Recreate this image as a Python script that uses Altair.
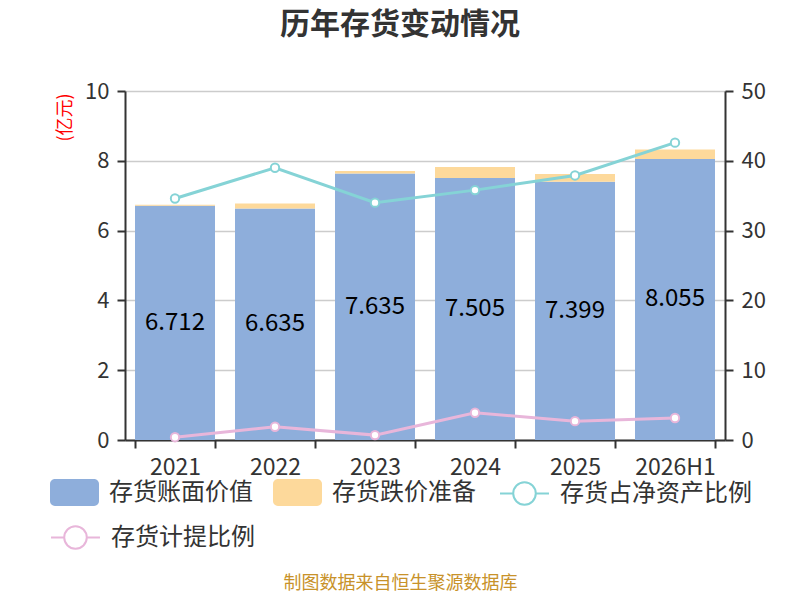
import altair as alt
import pandas as pd

years = ["2021", "2022", "2023", "2024", "2025", "2026H1"]
book_value = [6.712, 6.635, 7.635, 7.505, 7.399, 8.055]
reserve = [0.03, 0.14, 0.07, 0.32, 0.22, 0.27]
ratio_net_assets = [34.6, 39.0, 34.0, 35.8, 37.9, 42.6]
ratio_provision = [0.4, 1.9, 0.7, 3.9, 2.7, 3.15]

S_BOOK = "存货账面价值"
S_RES = "存货跌价准备"
S_L1 = "存货占净资产比例"
S_L2 = "存货计提比例"

FONT = "Noto Sans CJK SC"
BLUE = "#8eaedb"
ORANGE = "#fdd99b"
TEAL = "#85d3d6"
PINK = "#e8b6da"

bar_rows = []
for y, b, r in zip(years, book_value, reserve):
    bar_rows.append({"year": y, "series": S_BOOK, "value": b, "ord": 0})
    bar_rows.append({"year": y, "series": S_RES, "value": r, "ord": 1})
df_bar = pd.DataFrame(bar_rows)
df_txt = pd.DataFrame({"year": years, "value": book_value})
df_l1 = pd.DataFrame({"year": years, "value": ratio_net_assets, "series": S_L1})
df_l2 = pd.DataFrame({"year": years, "value": ratio_provision, "series": S_L2})

RECT = ("M-0.8,-0.55 L0.8,-0.55 A0.2,0.2 0 0 1 1,-0.35 L1,0.35 "
        "A0.2,0.2 0 0 1 0.8,0.55 L-0.8,0.55 A0.2,0.2 0 0 1 -1,0.35 "
        "L-1,-0.35 A0.2,0.2 0 0 1 -0.8,-0.55 Z")
LINESYM = ("M-1,0 L-0.46,0 M0.46,0 L1,0 M0.46,0 "
           "A0.46,0.46 0 1 0 -0.46,0 A0.46,0.46 0 1 0 0.46,0 Z")

x_enc = alt.X(
    "year:N", sort=years,
    scale=alt.Scale(paddingInner=0.2, paddingOuter=0.1),
    axis=alt.Axis(
        title="制图数据来自恒生聚源数据库", titleColor="#c8922a", titleFontSize=18,
        titleFontWeight="normal", titleX=275, titleY=143, titleAlign="center",
        titleBaseline="middle", titleFont=FONT,
        labelAngle=0, labelFontSize=23, labelColor="#333333", labelFont=FONT,
        tickBand="extent", tickSize=8, tickColor="#333333", tickWidth=2,
        domainColor="#333333", domainWidth=2, labelPadding=8, grid=False,
    ),
)

left_axis = alt.Axis(
    title="(亿元)", titleColor="#ff0000", titleFontSize=18, titleFontWeight="normal",
    titleFont=FONT, titleX=-60, titleY=26, titleAlign="center", titleAngle=-90,
    titleBaseline="middle",
    values=[0, 2, 4, 6, 8, 10], labelFontSize=22, labelColor="#333333", labelFont=FONT,
    tickSize=8, tickColor="#333333", tickWidth=2, domainColor="#333333", domainWidth=2,
    labelPadding=8, grid=True, gridColor="#cccccc", gridWidth=1.5,
)
right_axis = alt.Axis(
    title="%", titleColor="#ff0000", titleFontSize=18, titleFontWeight="normal",
    titleFont=FONT, titleX=72, titleY=8, titleAlign="center", titleAngle=90,
    titleBaseline="middle", orient="right",
    values=[0, 10, 20, 30, 40, 50], labelFontSize=22, labelColor="#333333", labelFont=FONT,
    tickSize=8, tickColor="#333333", tickWidth=2, domainColor="#333333", domainWidth=2,
    labelPadding=8, grid=False,
)

legend_common = dict(
    orient="none", direction="horizontal", title=None, labelFontSize=24,
    labelColor="#333333", labelFont=FONT, symbolSize=2400, labelOffset=10,
    padding=0, columnPadding=20, labelLimit=400,
)

bars = alt.Chart(df_bar).mark_bar().encode(
    x=x_enc,
    y=alt.Y("value:Q", stack="zero", scale=alt.Scale(domain=[0, 10], nice=False), axis=left_axis),
    fill=alt.Fill(
        "series:N",
        scale=alt.Scale(domain=[S_BOOK, S_RES], range=[BLUE, ORANGE]),
        legend=alt.Legend(legendX=-75, legendY=377, symbolType=RECT,
                          symbolStrokeWidth=0, **legend_common),
    ),
    order=alt.Order("ord:Q", sort="ascending"),
)

text = alt.Chart(df_txt).transform_calculate(mid="datum.value / 2").mark_text(
    fontSize=24, color="#000000", font=FONT, baseline="middle"
).encode(
    x=alt.X("year:N", sort=years),
    y=alt.Y("mid:Q", scale=alt.Scale(domain=[0, 10], nice=False), axis=left_axis),
    text=alt.Text("value:Q", format=".3f"),
)

def line_layer(df, color, lx, ly):
    return alt.Chart(df).mark_line(
        strokeWidth=3,
        point=alt.OverlayMarkDef(filled=False, fill="white", size=70, strokeWidth=2),
    ).encode(
        x=alt.X("year:N", sort=years),
        y=alt.Y("value:Q", scale=alt.Scale(domain=[0, 50], nice=False), axis=right_axis),
        stroke=alt.Stroke(
            "series:N",
            scale=alt.Scale(domain=[df["series"][0]], range=[color]),
            legend=alt.Legend(legendX=lx, legendY=ly, symbolType=LINESYM,
                              symbolStrokeWidth=2, symbolFillColor="white",
                              **legend_common),
        ),
    )

line1 = line_layer(df_l1, TEAL, 374, 377)
line2 = line_layer(df_l2, PINK, -75, 421)

left = alt.layer(bars, text)
right = alt.layer(line1, line2).resolve_scale(stroke="independent")

chart = alt.layer(left, right).resolve_scale(y="independent").properties(
    width=600, height=349,
    padding={"left": 117, "top": 83, "right": 67, "bottom": 152},
    autosize=alt.AutoSizeParams(type="none"),
    title=alt.Title(
        "历年存货变动情况", fontSize=30, fontWeight="bold", color="#333333", font=FONT,
        anchor="middle", dx=-25, offset=40,
    ),
).configure_view(stroke=None).configure(background="white")

chart.save("out.html", embed_options={"renderer": "svg", "actions": False})
